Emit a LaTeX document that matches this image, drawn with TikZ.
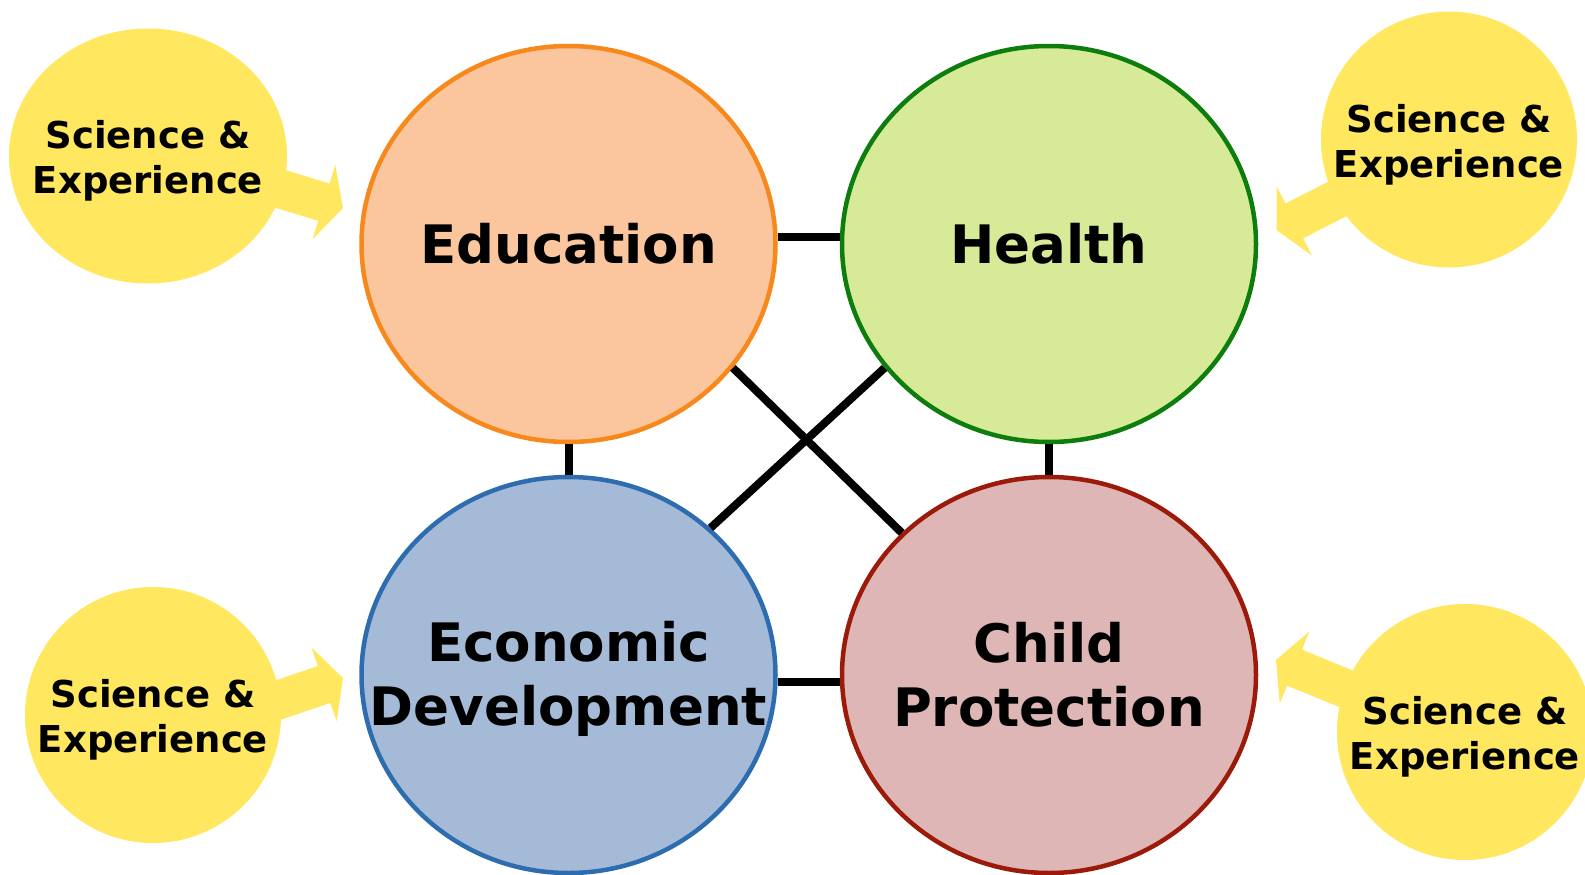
\documentclass[tikz,border=0pt]{standalone}
\usepackage{fontspec}
\setmainfont{DejaVu Sans}
\usepackage{xcolor}
\usetikzlibrary{shapes.geometric,calc,backgrounds}

\definecolor{edufill}{HTML}{FBC69D}
\definecolor{edudraw}{HTML}{F7891C}
\definecolor{hlfill}{HTML}{D7EA97}
\definecolor{hldraw}{HTML}{0D7D0D}
\definecolor{edvfill}{HTML}{A4BAD7}
\definecolor{edvdraw}{HTML}{2E6CB0}
\definecolor{cpfill}{HTML}{DDB6B5}
\definecolor{cpdraw}{HTML}{9B1A0A}
\definecolor{sciyellow}{HTML}{FFE860}

% block arrow from #1 (tail) to #2 (tip)
\newcommand{\sciarrow}[2]{%
  \coordinate (sab) at ($(#2)!20pt!(#1)$);
  \coordinate (sat) at ($(#1)!-40pt!(#2)$);
  \fill[sciyellow] ($(sat)!19.5pt!90:(#2)$) -- ($(sab)!19.5pt!90:(#2)$) -- ($(sab)!39pt!90:(#2)$)
    -- (#2) -- ($(sab)!39pt!-90:(#2)$) -- ($(sab)!19.5pt!-90:(#2)$) -- ($(sat)!19.5pt!-90:(#2)$) -- cycle;}

\begin{document}
\begin{tikzpicture}[x=1pt,y=-1pt,
  area/.style={ellipse,line width=4.5pt,minimum width=414pt,minimum height=396pt,inner sep=0pt},
  areatext/.style={align=center,inner sep=0pt,font=\fontsize{53}{64}\selectfont\bfseries},
  sci/.style={ellipse,fill=sciyellow,minimum width=256pt,minimum height=256pt,inner sep=0pt},
  scitext/.style={align=center,inner sep=0pt,yshift=-5pt,font=\fontsize{37}{45}\selectfont\bfseries},
  link/.style={line width=8pt}]
%\draw[step=100,red,thin] (0,0) grid (1585,875);
\useasboundingbox (0,0) rectangle (1585,875);

\node[area,fill=edufill,draw=edudraw,label={[areatext]center:Education}] (edu) at (568.5,244) {};
\node[area,fill=hlfill,draw=hldraw,label={[areatext]center:Health}] (hl) at (1049,244) {};
\node[area,fill=edvfill,draw=edvdraw,label={[areatext,yshift=-4pt]center:Economic\\Development}] (edv) at (568.5,675) {};
\node[area,fill=cpfill,draw=cpdraw,label={[areatext]center:Child\\Protection}] (cp) at (1049,675) {};

\draw[link] (edu.2) -- (hl.178);
\draw[link] (edv.-2) -- (cp.182);
\draw[link] (edu.south) -- (edv.north);
\draw[link] (hl.south) -- (cp.north);
\draw[link] (edu.-37) -- (cp.136.5);
\draw[link] (hl.-143) -- (edv.46);

\node[sci,minimum width=278pt,minimum height=255pt,label={[scitext]center:Science \&\\Experience}] (sa) at (148,156) {};
\node[sci,label={[scitext]center:Science \&\\Experience}] (sb) at (1449,139.5) {};
\node[sci,label={[scitext]center:Science \&\\Experience}] (sc) at (153,715) {};
\node[sci,label={[scitext]center:Science \&\\Experience}] (sd) at (1465,732) {};

\coordinate (sa-out) at (sa.-14.5);
\coordinate (sb-out) at (sb.-152);
\coordinate (sc-out) at (sc.7);
\coordinate (sd-out) at (sd.160);
\coordinate (sa-tip) at (343,208);
\coordinate (sb-tip) at (1276.5,230);
\coordinate (sc-tip) at (343,678);
\coordinate (sd-tip) at (1276,660);

\begin{scope}[on background layer]
\sciarrow{sa-out}{sa-tip}
\sciarrow{sb-out}{sb-tip}
\sciarrow{sc-out}{sc-tip}
\sciarrow{sd-out}{sd-tip}
\end{scope}

\end{tikzpicture}
\end{document}
